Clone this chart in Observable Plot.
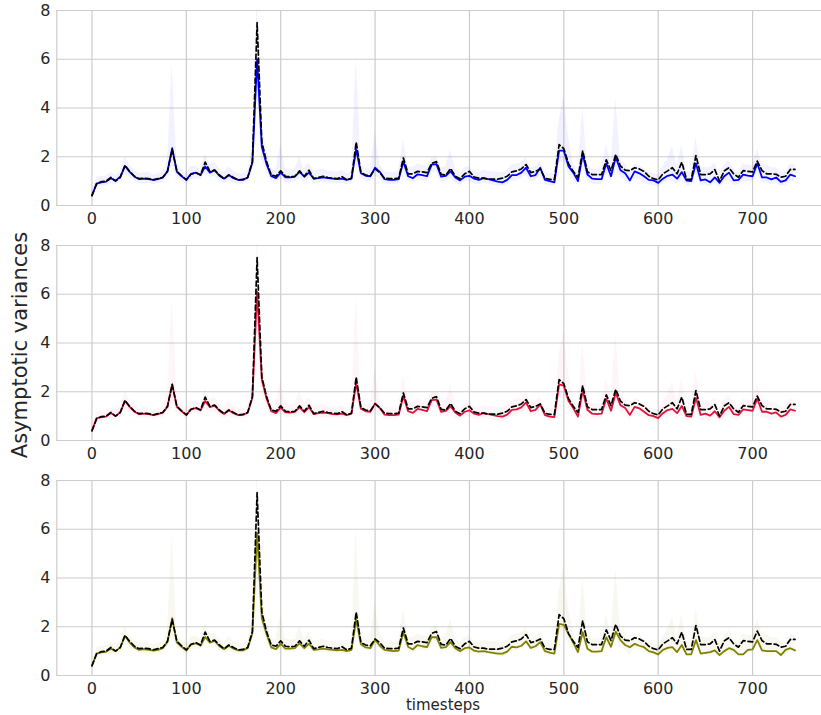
<!DOCTYPE html>
<html>
<head>
<meta charset="utf-8">
<script src="https://cdn.jsdelivr.net/npm/d3@7"></script>
<script src="https://cdn.jsdelivr.net/npm/@observablehq/plot@0.6"></script>
<style>
  html, body { margin: 0; padding: 0; background: #fff; }
  #wrap { position: relative; width: 821px; height: 715px; overflow: hidden; font-family: "DejaVu Sans", sans-serif; }
  #wrap svg { display: block; }
  #ylab { position: absolute; left: 20px; top: 345px; transform: translate(-50%, -50%) rotate(-90deg); font-size: 21px; color: #262626; white-space: nowrap; }
  #xlab { position: absolute; left: 443px; top: 705px; transform: translate(-50%, -50%); font-size: 15px; color: #262626; white-space: nowrap; }
</style>
</head>
<body>
<div id="wrap">
  <div id="plots"></div>
  <div id="ylab">Asymptotic variances</div>
  <div id="xlab">timesteps</div>
</div>
<script>
const steps = [0,5,10,15,20,25,30,35,40,45,50,55,60,65,70,75,80,85,90,95,100,105,110,115,120,125,130,135,140,145,150,155,160,165,170,175,180,185,190,195,200,205,210,215,220,225,230,235,240,245,250,255,260,265,270,275,280,285,290,295,300,305,310,315,320,325,330,335,340,345,350,355,360,365,370,375,380,385,390,395,400,405,410,415,420,425,430,435,440,445,450,455,460,465,470,475,480,485,490,495,500,505,510,515,520,525,530,535,540,545,550,555,560,565,570,575,580,585,590,595,600,605,610,615,620,625,630,635,640,645,650,655,660,665,670,675,680,685,690,695,700,705,710,715,720,725,730,735,740,745];

// black dashed reference curve
const reference = [0.4,0.9,0.98,1.0,1.15,1.0,1.15,1.65,1.4,1.2,1.1,1.12,1.1,1.05,1.1,1.15,1.4,2.3,1.4,1.22,1.05,1.28,1.35,1.25,1.78,1.4,1.45,1.25,1.1,1.25,1.15,1.05,1.07,1.15,1.8,7.5,2.6,1.8,1.25,1.2,1.42,1.2,1.18,1.2,1.42,1.2,1.45,1.1,1.15,1.2,1.15,1.12,1.1,1.18,1.05,1.12,2.6,1.35,1.25,1.22,1.5,1.35,1.12,1.1,1.1,1.12,1.95,1.3,1.3,1.4,1.38,1.35,1.73,1.8,1.28,1.25,1.52,1.2,1.1,1.3,1.4,1.17,1.12,1.12,1.08,1.08,1.08,1.12,1.2,1.38,1.42,1.5,1.68,1.35,1.4,1.5,1.12,1.07,1.07,2.5,2.33,1.72,1.4,1.15,2.25,1.38,1.27,1.27,1.27,1.87,1.43,2.1,1.62,1.45,1.43,1.55,1.5,1.4,1.2,1.1,1.05,1.3,1.42,1.55,1.3,1.78,1.07,1.07,2.05,1.27,1.27,1.3,1.47,1.0,1.42,1.55,1.3,1.16,1.43,1.4,1.38,1.82,1.43,1.3,1.3,1.28,1.16,1.2,1.48,1.48];

const blueMean = [0.42,0.9,0.95,0.98,1.12,1.02,1.18,1.62,1.38,1.18,1.08,1.1,1.08,1.05,1.08,1.15,1.4,2.35,1.38,1.2,1.05,1.3,1.35,1.25,1.6,1.35,1.45,1.22,1.1,1.25,1.12,1.05,1.05,1.15,1.75,6.0,2.4,1.7,1.2,1.12,1.35,1.15,1.15,1.18,1.38,1.18,1.35,1.1,1.12,1.15,1.12,1.1,1.08,1.1,1.05,1.1,2.3,1.32,1.22,1.2,1.55,1.38,1.08,1.05,1.05,1.08,1.8,1.2,1.12,1.28,1.25,1.2,1.68,1.7,1.18,1.22,1.4,1.15,1.03,1.18,1.22,1.1,1.05,1.12,1.08,1.03,0.98,0.95,1.05,1.25,1.25,1.35,1.55,1.2,1.25,1.55,1.05,1.0,0.95,2.25,2.25,1.6,1.35,1.0,2.1,1.27,1.1,1.08,1.08,1.73,1.2,1.98,1.45,1.32,1.03,1.4,1.32,1.2,1.05,1.03,0.93,1.1,1.22,1.27,1.1,1.37,1.02,1.0,1.73,1.03,1.07,0.95,1.15,0.93,1.2,1.35,1.03,1.05,1.27,1.23,1.2,1.73,1.15,1.15,1.07,1.15,0.97,1.03,1.27,1.2];

const crimsonMean = [0.4,0.92,0.96,0.98,1.13,1.0,1.16,1.62,1.38,1.18,1.08,1.1,1.08,1.04,1.08,1.14,1.38,2.3,1.38,1.2,1.04,1.28,1.33,1.24,1.62,1.37,1.43,1.22,1.09,1.24,1.12,1.04,1.05,1.14,1.75,6.1,2.5,1.72,1.2,1.12,1.35,1.15,1.14,1.17,1.36,1.16,1.36,1.08,1.12,1.14,1.12,1.08,1.07,1.1,1.04,1.1,2.35,1.3,1.2,1.18,1.52,1.33,1.06,1.04,1.04,1.06,1.82,1.2,1.13,1.3,1.26,1.2,1.66,1.68,1.17,1.22,1.4,1.15,1.02,1.18,1.24,1.1,1.05,1.12,1.08,1.04,1.0,0.98,1.06,1.26,1.28,1.36,1.56,1.2,1.26,1.48,1.04,0.98,0.96,2.3,2.25,1.62,1.33,0.98,2.05,1.26,1.1,1.08,1.1,1.72,1.22,1.95,1.45,1.33,1.05,1.38,1.32,1.18,1.04,1.0,0.92,1.12,1.25,1.3,1.12,1.42,1.0,0.98,1.75,1.05,1.1,1.02,1.2,0.95,1.22,1.38,1.08,1.05,1.28,1.25,1.22,1.72,1.18,1.18,1.1,1.15,0.98,1.05,1.28,1.22];

const oliveMean = [0.4,0.9,0.95,0.97,1.1,1.0,1.15,1.62,1.35,1.15,1.05,1.08,1.05,1.02,1.05,1.12,1.38,2.35,1.35,1.18,1.02,1.27,1.32,1.22,1.58,1.35,1.42,1.2,1.08,1.22,1.1,1.03,1.03,1.12,1.72,5.85,2.35,1.7,1.15,1.08,1.3,1.1,1.1,1.12,1.32,1.12,1.3,1.05,1.07,1.1,1.07,1.05,1.03,1.05,1.0,1.05,2.3,1.28,1.15,1.12,1.47,1.22,1.05,1.02,1.0,1.02,1.78,1.18,1.07,1.25,1.2,1.16,1.57,1.57,1.13,1.16,1.37,1.12,1.0,1.12,1.15,1.02,0.98,1.0,0.96,0.93,0.9,0.9,0.98,1.18,1.15,1.22,1.4,1.13,1.2,1.37,1.0,0.94,0.9,2.12,2.08,1.7,1.35,0.96,1.78,1.1,0.98,0.98,1.0,1.57,1.18,1.8,1.45,1.25,1.16,1.3,1.22,1.16,1.0,0.95,0.87,1.05,1.13,1.16,0.96,1.25,0.87,0.87,1.45,0.9,0.93,0.96,1.03,0.84,1.0,1.12,1.05,0.87,0.87,1.05,1.07,1.45,1.03,1.0,1.0,1.0,0.84,1.05,1.12,1.03];

// faint spread band (upper / lower envelope)
const bandHigh = [0.5,1.15,1.2,1.2,1.35,1.25,1.4,2.0,1.65,1.45,1.3,1.35,1.35,1.25,1.3,1.4,1.8,5.8,1.75,1.5,1.3,1.6,1.6,1.5,2.1,1.7,1.75,1.5,1.35,1.6,1.4,1.3,1.3,1.4,2.5,8.5,3.2,2.3,1.5,1.45,2.5,1.5,1.45,1.5,2.0,1.5,1.75,1.4,1.45,1.5,1.4,1.4,1.35,1.45,1.3,1.4,6.0,1.7,1.5,1.5,3.0,1.7,1.4,1.35,1.35,1.4,2.7,1.6,1.55,1.7,1.65,1.6,1.95,2.0,1.55,1.6,2.3,1.5,1.3,1.55,1.6,1.4,1.35,1.45,1.4,1.4,1.35,1.35,1.45,1.65,1.7,1.75,1.95,1.55,1.6,1.8,1.35,1.3,1.3,3.5,4.5,2.8,1.7,1.35,4.0,1.7,1.5,1.5,1.5,2.5,1.7,4.4,1.9,1.7,1.35,1.7,1.65,1.5,1.35,1.3,1.25,1.6,1.9,2.4,1.6,2.5,1.4,1.35,2.8,1.6,1.55,1.55,1.75,1.3,1.65,1.85,1.5,1.35,1.7,1.65,1.65,2.3,1.7,1.65,1.55,1.55,1.35,1.4,1.7,1.65];

const bandLow = [0.3,0.75,0.8,0.82,0.92,0.85,0.95,1.3,1.15,1.0,0.9,0.9,0.9,0.85,0.9,0.95,1.15,1.6,1.15,1.0,0.88,1.05,1.1,1.05,1.3,1.15,1.2,1.0,0.9,1.0,0.92,0.88,0.88,0.95,1.4,4.5,1.9,1.4,1.0,0.95,1.1,0.95,0.95,0.95,1.1,0.95,1.1,0.9,0.92,0.95,0.92,0.9,0.88,0.9,0.85,0.9,1.8,1.1,1.0,0.98,1.2,1.1,0.88,0.85,0.85,0.88,1.4,0.98,0.92,1.05,1.02,0.98,1.35,1.38,0.95,1.0,1.12,0.92,0.82,0.95,1.0,0.88,0.85,0.9,0.88,0.83,0.8,0.78,0.85,1.0,1.02,1.1,1.25,0.98,1.02,1.2,0.85,0.8,0.78,1.75,1.8,1.3,1.08,0.8,1.6,1.02,0.88,0.86,0.86,1.35,0.98,1.5,1.15,1.05,0.82,1.1,1.05,0.95,0.84,0.82,0.75,0.88,0.98,1.0,0.88,1.05,0.8,0.8,1.3,0.82,0.85,0.76,0.9,0.74,0.95,1.05,0.82,0.84,1.0,0.98,0.95,1.35,0.92,0.92,0.85,0.92,0.78,0.82,1.0,0.95];

const panelColors = ["#0000ff", "#dc143c", "#808000"];
const panelMeans = [blueMean, crimsonMean, oliveMean];
const bandOpacity = [0.055, 0.045, 0.06];
const yTicks = [0, 2, 4, 6, 8];
const xTicks = [0, 100, 200, 300, 400, 500, 600, 700];

const container = document.getElementById("plots");

panelMeans.forEach((mean, i) => {
  const rows = steps.map((t, k) => ({t, ref: reference[k], mean: mean[k], lo: bandLow[k], hi: bandHigh[k]}));
  const last = i === 2;
  const chart = Plot.plot({
    width: 821,
    height: last ? 245 : 235,
    marginTop: 10,
    marginBottom: last ? 40 : 30,
    marginLeft: 56,
    marginRight: 0,
    style: {fontFamily: "DejaVu Sans, sans-serif", fontSize: "15px", color: "#262626", background: "#fff"},
    x: {domain: [-37.25, 782.25], range: [56.3, 829.7]},
    y: {domain: [0, 8]},
    marks: [
      Plot.gridX(xTicks, {stroke: "#cccccc", strokeOpacity: 1, strokeWidth: 1.2}),
      Plot.gridY(yTicks, {stroke: "#cccccc", strokeOpacity: 1, strokeWidth: 1.2}),
      Plot.ruleX([-37.25], {stroke: "#cccccc", strokeWidth: 1.2}),
      Plot.areaY(rows, {x: "t", y1: "lo", y2: "hi", fill: panelColors[i], fillOpacity: bandOpacity[i], clip: true}),
      Plot.line(rows, {x: "t", y: "mean", stroke: panelColors[i], strokeWidth: 1.8, clip: true}),
      Plot.line(rows, {x: "t", y: "ref", stroke: "#000", strokeWidth: 1.7, strokeDasharray: "5,3", clip: true}),
      Plot.axisX(xTicks, {tickSize: 0, tickPadding: 7, fontSize: 16, fill: "#262626", label: null}),
      Plot.axisY(yTicks, {tickSize: 0, tickPadding: 6, fontSize: 16, fill: "#262626", label: null})
    ]
  });
  container.appendChild(chart);
});
</script>
</body>
</html>
